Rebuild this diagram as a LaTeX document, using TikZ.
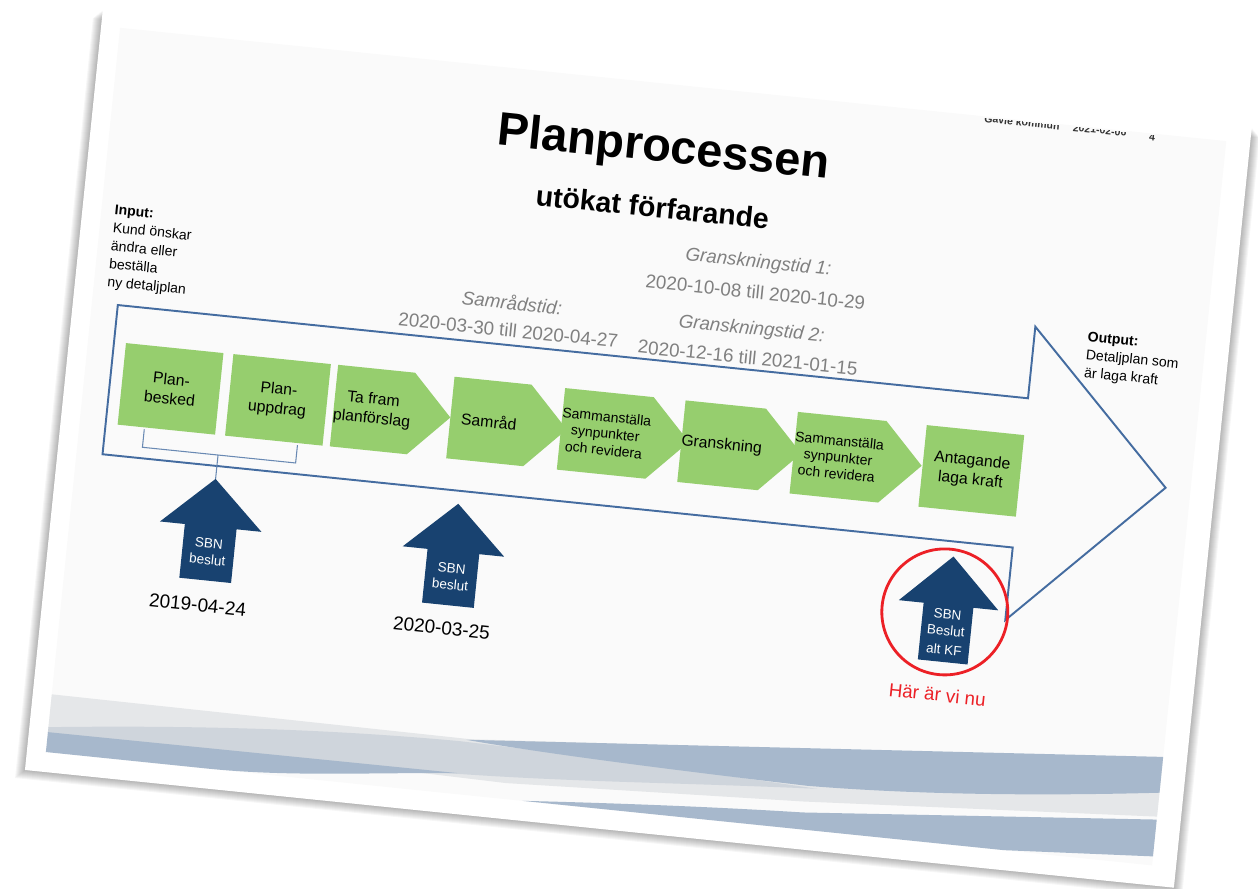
\documentclass[tikz,border=0pt]{standalone}
\usepackage{fontspec}
\setmainfont{Liberation Sans}
\usetikzlibrary{shapes.symbols}

\definecolor{stepgreen}{RGB}{150,206,110}
\definecolor{flowblue}{RGB}{68,108,160}
\definecolor{sbnblue}{RGB}{24,66,112}
\definecolor{bandblue}{RGB}{167,184,204}
\definecolor{bandgray}{RGB}{207,213,220}
\definecolor{bandlight}{RGB}{229,231,233}
\definecolor{tidgray}{RGB}{128,128,128}
\definecolor{nured}{RGB}{236,32,38}

\begin{document}
\begin{tikzpicture}
    [x=0.02cm, y=-0.02cm,
     box/.style={rectangle, fill=stepgreen, minimum width=1.96cm, minimum height=1.64cm, align=center, inner sep=0pt, font=\fontsize{9}{11}\selectfont},
     chev/.style={signal, signal to=east, signal pointer angle=92, fill=stepgreen, minimum width=2.34cm, minimum height=1.64cm, align=center, inner sep=0pt, font=\fontsize{9}{11}\selectfont},
     small/.style={font=\fontsize{8}{9.5}\selectfont},
     sbn/.style={fill=sbnblue},
     sbntext/.style={text=white, align=center, inner sep=0pt, font=\fontsize{7.7}{9.5}\selectfont},
     flow/.style={draw=flowblue, line width=1.1pt, line join=miter},
     brk/.style={draw=flowblue!80, line width=0.6pt},
     tid/.style={text=tidgray, font=\fontsize{10.7}{12}\selectfont\itshape},
     tiddate/.style={text=tidgray, font=\fontsize{10.7}{12}\selectfont},
     datum/.style={font=\fontsize{10.8}{12}\selectfont},
     note/.style={align=left, inner sep=0pt, font=\fontsize{8}{10.3}\selectfont}]

    \useasboundingbox (0,0) rectangle (1258,889);

    \begin{scope}[shift={(103,8)}, rotate=-5.85, transform shape]
    % sheet with shadow
    \foreach \s in {1,...,9}
        \fill[black, opacity=0.035] (-\s,2+\s) rectangle (1155+\s,766+\s);
    \fill[white] (0,0) rectangle (1155,766);
    \fill[gray!4] (19,18) rectangle (1131,746);

    % footer bands
    \fill[bandlight] (19,688) -- (440,690) -- (1131,640) -- (1131,697) -- (778,718) -- (480,730) -- (19,722) -- cycle;
    \fill[bandgray] (19,721) .. controls (200,700) and (330,694) .. (430,693) .. controls (600,696) and (700,700) .. (790,704) .. controls (650,712) and (550,722) .. (423,726) -- (19,727) -- cycle;
    \fill[bandblue] (19,726) -- (430,725) .. controls (330,735) and (260,746) .. (180,746) -- (19,746) -- cycle;
    \fill[bandblue] (436,691) -- (1131,637) -- (1131,673) .. controls (1000,690) and (880,700) .. (780,702) .. controls (650,700) and (520,697) .. (436,691) -- cycle;
    \fill[bandblue] (498,746) .. controls (600,738) and (700,732) .. (778,729) -- (1131,700) -- (1131,737) -- (982,746) -- cycle;

    % header (cut at the top)
    \begin{scope}
        \clip (880,19) rectangle (1100,40);
        \node[font=\fontsize{6}{7}\selectfont\bfseries, text=black!80] (hdr1) at (926,20) {Gävle kommun};
        \node[font=\fontsize{6}{7}\selectfont\bfseries, text=black!80] (hdr2) at (1004,20) {2021-02-06};
        \node[font=\fontsize{6}{7}\selectfont\bfseries, text=black!80] (hdr3) at (1057,22) {4};
    \end{scope}

    \node[font=\fontsize{26.7}{30}\selectfont\bfseries] (ttl) at (572,84) {Planprocessen};
    \node[font=\fontsize{16.2}{19}\selectfont\bfseries] (sub) at (567,142) {utökat förfarande};

    \node[note, anchor=north west] (inp) at (32,194) {\textbf{Input:}\\Kund önskar\\ändra eller\\beställa\\ny detaljplan};
    \node[note, anchor=north west] (outp) at (1013,221) {\textbf{Output:}\\Detaljplan som\\är laga kraft};

    % time spans
    \node[tid] (samr) at (437,251) {Samrådstid:};
    \node[tiddate] (samrd) at (436,279) {2020-03-30 till 2020-04-27};
    \node[tid] (gr1) at (678,187) {Granskningstid 1:};
    \node[tiddate] (gr1d) at (678,216) {2020-10-08 till 2020-10-29};
    \node[tid] (gr2) at (678,254) {Granskningstid 2:};
    \node[tiddate] (gr2d) at (677,282) {2020-12-16 till 2021-01-15};

    % big process arrow
    \draw[flow] (45,294) -- (960,294) -- (960,222) -- (1106,369) -- (960,517) -- (960,444) -- (45,444) -- cycle;

    % steps
    \node[box] (b1) at (106,372) {Plan-\\besked};
    \node[box] (b2) at (214,372) {Plan-\\uppdrag};
    \node[chev] (b3) at (309,372) {Ta fram\\planförslag};
    \node[chev] (b4) at (426,372) {Samråd};
    \node[chev, small] (b5) at (543,372) {Sammanställa\\synpunkter\\och revidera};
    \node[chev] (b6) at (660,372) {Granskning};
    \node[chev, small] (b7) at (777,372) {Sammanställa\\synpunkter\\och revidera};
    \node[box] (b8) at (911,372) {Antagande\\laga kraft};

    % bracket over the first two steps
    \coordinate (brA) at (84,415);
    \coordinate (brB) at (84,433);
    \coordinate (brC) at (238,433);
    \coordinate (brD) at (238,415);
    \coordinate (brM) at (160,433);
    \coordinate (tipA) at (160,457);
    \draw[brk] (brA) -- (brB) -- (brC) -- (brD);
    \draw[brk] (brM) -- (tipA);

    % decisions
    \fill[sbn] (tipA) -- ++(51,48) -- ++(-25,0) -- ++(0,54) -- ++(-52,0) -- ++(0,-54) -- ++(-25,0) -- cycle;
    \node[sbntext] (sbnA) at (160,530) {SBN\\beslut};
    \node[datum] (dA) at (155,584) {2019-04-24};

    \fill[sbn] (404,457) -- ++(51,48) -- ++(-25,0) -- ++(0,54) -- ++(-52,0) -- ++(0,-54) -- ++(-25,0) -- cycle;
    \node[sbntext] (sbnB) at (404,530) {SBN\\beslut};
    \node[datum] (dB) at (400,582) {2020-03-25};

    \fill[sbn] (902,459) -- ++(50,49) -- ++(-25,0) -- ++(0,57) -- ++(-50,0) -- ++(0,-57) -- ++(-25,0) -- cycle;
    \node[sbntext] (sbnC) at (902,535) {SBN\\Beslut\\[1.5pt]alt KF};
    \node[circle, draw=nured, line width=1.6pt, minimum size=2.52cm] (ring) at (899,515) {};
    \node[text=nured, font=\fontsize{10.7}{12}\selectfont] (nu) at (900,598) {Här är vi nu};
    \end{scope}
\end{tikzpicture}
\end{document}
